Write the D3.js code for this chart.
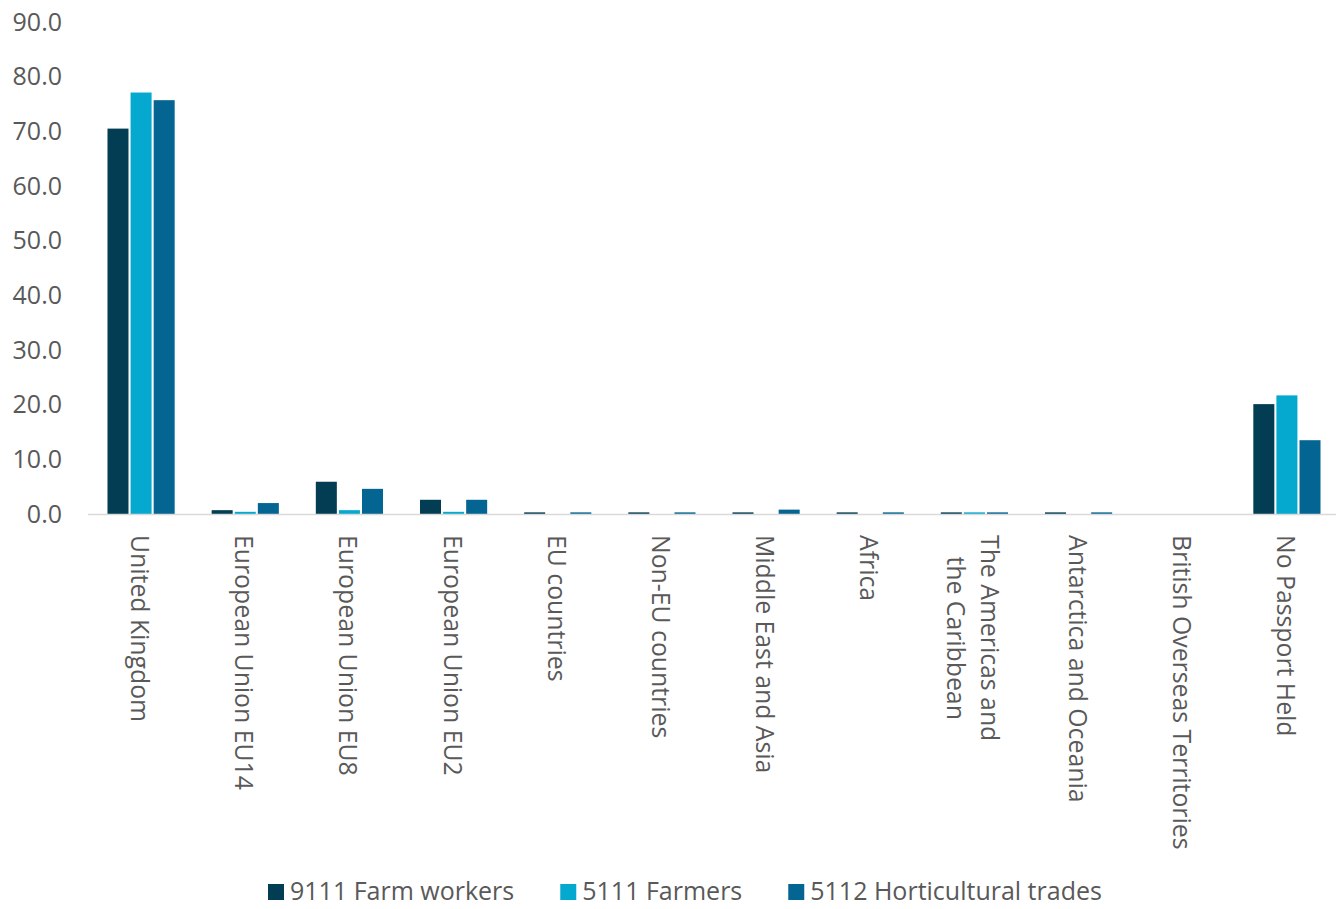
<!DOCTYPE html>
<html>
<head>
<meta charset="utf-8">
<script src="https://cdn.jsdelivr.net/npm/d3@7"></script>
<style>
  html, body { margin: 0; padding: 0; background: #ffffff; }
  svg { display: block; }
  text { font-family: "Open Sans", "Noto Sans", sans-serif; fill: #595959; }
</style>
</head>
<body>
<svg id="chart" width="1336" height="909"></svg>
<script>
// ---- data ----
const categories = [
  "United Kingdom", "European Union EU14", "European Union EU8", "European Union EU2",
  "EU countries", "Non-EU countries", "Middle East and Asia", "Africa",
  "The Americas and the Caribbean", "Antarctica and Oceania",
  "British Overseas Territories", "No Passport Held"
];
const categoryLines = [
  ["United Kingdom"], ["European Union EU14"], ["European Union EU8"], ["European Union EU2"],
  ["EU countries"], ["Non-EU countries"], ["Middle East and Asia"], ["Africa"],
  ["The Americas and", "the Caribbean"], ["Antarctica and Oceania"],
  ["British Overseas Territories"], ["No Passport Held"]
];
const seriesNames = ["9111 Farm workers", "5111 Farmers", "5112 Horticultural trades"];
const farmWorkers     = [70.5, 0.7, 5.9, 2.6, 0.3, 0.3, 0.3, 0.3, 0.3, 0.3, 0, 20.1];
const farmers         = [77.1, 0.4, 0.7, 0.4, 0,   0,   0,   0,   0.3, 0,   0, 21.7];
const horticultural   = [75.7, 2.0, 4.6, 2.6, 0.3, 0.3, 0.8, 0.3, 0.3, 0.3, 0, 13.5];
const yTicks = [0, 10, 20, 30, 40, 50, 60, 70, 80, 90];
const colors = ["#033d53", "#05a9cf", "#046593"];

// ---- build ----
const seriesValues = [farmWorkers, farmers, horticultural];
const rows = categories.map((c, i) => ({
  cat: c,
  vals: seriesNames.map((s, k) => ({ series: s, value: seriesValues[k][i], k }))
}));

const svg = d3.select("#chart");

const x0 = d3.scaleBand()
  .domain(categories)
  .range([89, 1339])
  .paddingInner(0.355)
  .paddingOuter(0.1775);

const x1 = d3.scaleBand()
  .domain(seriesNames)
  .range([0, x0.bandwidth()])
  .paddingInner(0.09)
  .paddingOuter(0);

const y = d3.scaleLinear().domain([0, 90]).range([514, 22]);

// y axis labels
const yAxis = d3.axisLeft(y).tickValues(yTicks).tickFormat(d3.format(".1f")).tickSize(0).tickPadding(0);
const yg = svg.append("g").attr("transform", "translate(62,0)").call(yAxis);
yg.select(".domain").remove();
yg.selectAll("text")
  .attr("font-size", 25)
  .attr("font-family", "Open Sans")
  .attr("fill", "#595959")
  .attr("dy", "0.32em");

// bars
const groups = svg.append("g").selectAll("g")
  .data(rows).join("g")
  .attr("transform", d => `translate(${x0(d.cat)},0)`);

groups.selectAll("rect")
  .data(d => d.vals.filter(v => v.value > 0))
  .join("rect")
  .attr("x", d => x1(d.series))
  .attr("width", x1.bandwidth())
  .attr("y", d => y(d.value))
  .attr("height", d => y(0) - y(d.value))
  .attr("fill", d => colors[d.k]);

// baseline
svg.append("line")
  .attr("x1", 88).attr("x2", 1336)
  .attr("y1", y(0) + 0.5).attr("y2", y(0) + 0.5)
  .attr("stroke", "#d9d9d9").attr("stroke-width", 1.5);

// category labels (rotated)
const labG = svg.append("g");
categories.forEach((c, i) => {
  const cx = x0(c) + x0.bandwidth() / 2;
  const lines = categoryLines[i];
  const lh = 34;
  const g = labG.append("g").attr("transform", `translate(${cx},535) rotate(90)`);
  const n = lines.length;
  const t = g.append("text")
    .attr("font-size", 24.8)
    .attr("dominant-baseline", "central");
  lines.forEach((ln, j) => {
    t.append("tspan")
      .attr("x", 0)
      .attr("y", (j - (n - 1) / 2) * lh)
      .text(ln);
  });
  if (n > 1) {
    const widths = [];
    t.selectAll("tspan").each(function() { widths.push(this.getComputedTextLength()); });
    const maxW = d3.max(widths);
    t.selectAll("tspan").attr("x", (d, j) => (maxW - widths[j]) / 2);
  }
});

// legend
const legend = svg.append("g").attr("transform", "translate(0,890)");
let lx = 268;
seriesNames.forEach((s, k) => {
  legend.append("rect")
    .attr("x", lx).attr("y", -6).attr("width", 16).attr("height", 16)
    .attr("fill", colors[k]);
  const t = legend.append("text")
    .attr("x", lx + 22).attr("y", 0)
    .attr("font-size", 25)
    .attr("dominant-baseline", "central")
    .text(s);
  lx += 22 + t.node().getComputedTextLength() + 46;
});
</script>
</body>
</html>
